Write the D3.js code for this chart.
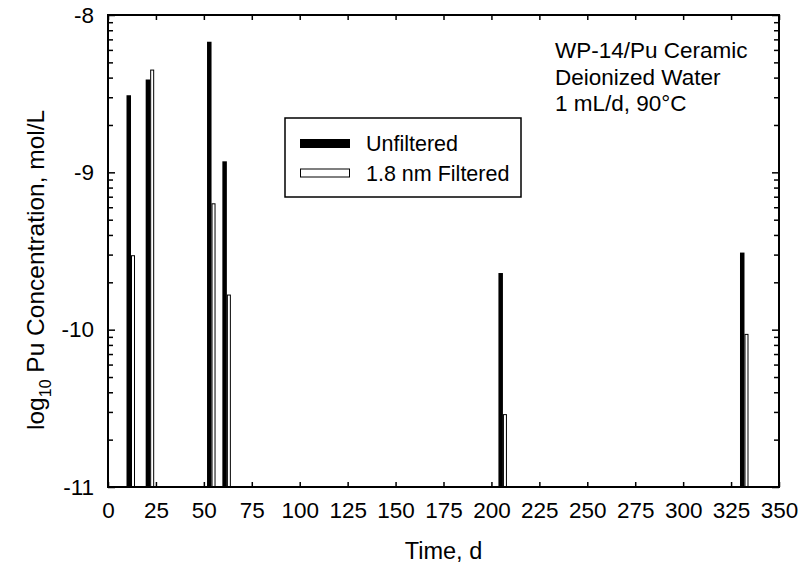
<!DOCTYPE html>
<html lang="en">
  <head>
    <meta charset="UTF-8" />
    <title>Pu Concentration vs Time</title>
    <script src="https://d3js.org/d3.v7.min.js"></script>
    <style>
      body { margin: 0; background: #fff; }
      text { font-family: "Liberation Sans", Arial, sans-serif; fill: #000; }
    </style>
  </head>
  <body>
    <div id="chart"></div>

    <script>
      // sampling days and log10 concentrations
      const days = [12, 22, 54, 62, 206, 332];
      const unfiltered = [-8.51, -8.41, -8.17, -8.93, -9.64, -9.51];
      const filtered = [-9.53, -8.35, -9.2, -9.78, -10.54, -10.03];

      const xTicks = d3.range(0, 351, 25);
      const yTicks = [-8, -9, -10, -11];
      const seriesNames = ["Unfiltered", "1.8 nm Filtered"];
      const noteLines = ["WP-14/Pu Ceramic", "Deionized Water", "1 mL/d, 90°C"];

      const data = days.map((d, i) => ({ day: d, unf: unfiltered[i], fil: filtered[i] }));

      const margin = { top: 15, right: 28, bottom: 81, left: 108 },
        width = 807 - margin.left - margin.right,
        height = 568 - margin.top - margin.bottom;

      const svg = d3
        .select("#chart")
        .append("svg")
        .attr("width", 807)
        .attr("height", 568)
        .append("g")
        .attr("transform", `translate(${margin.left},${margin.top})`);

      const x = d3.scaleLinear().domain([0, 350]).range([0, width]);
      const y = d3.scaleLinear().domain([-11, -8]).range([height, 0]);

      // bars: black = unfiltered, open = filtered
      svg
        .append("g")
        .selectAll("rect.unf")
        .data(data)
        .join("rect")
        .attr("class", "unf")
        .attr("x", (d) => x(d.day) - 4.5)
        .attr("y", (d) => y(d.unf))
        .attr("width", 4.5)
        .attr("height", (d) => y(-11) - y(d.unf))
        .attr("fill", "#000");

      svg
        .append("g")
        .selectAll("rect.fil")
        .data(data)
        .join("rect")
        .attr("class", "fil")
        .attr("x", (d) => x(d.day) + 0.5)
        .attr("y", (d) => y(d.fil))
        .attr("width", 3)
        .attr("height", (d) => y(-11) - y(d.fil))
        .attr("fill", "#fff")
        .attr("stroke", "#000")
        .attr("stroke-width", 1);

      // axes (ticks point inward)
      const xAxis = svg
        .append("g")
        .attr("transform", `translate(0,${height})`)
        .call(d3.axisBottom(x).tickValues(xTicks).tickSizeInner(-5).tickSizeOuter(0).tickPadding(15));
      xAxis.selectAll("text").style("font-size", "22.5px");

      svg
        .append("g")
        .call(d3.axisTop(x).tickValues(xTicks).tickSizeInner(-5).tickSizeOuter(0).tickFormat(""));

      const yAxis = svg
        .append("g")
        .call(
          d3.axisLeft(y).tickValues(yTicks).tickSizeInner(-7).tickSizeOuter(0).tickPadding(14)
            .tickFormat((d) => String(d))
        );
      yAxis.selectAll("text").style("font-size", "22.5px");

      svg
        .append("g")
        .attr("transform", `translate(${width},0)`)
        .call(d3.axisRight(y).tickValues(yTicks).tickSizeInner(-7).tickSizeOuter(0).tickFormat(""));

      // log minor ticks inside each decade
      const minor = [];
      [-11, -10, -9].forEach((base) => {
        d3.range(2, 10).forEach((k) => minor.push(base + Math.log10(k)));
      });
      svg
        .append("g")
        .call(d3.axisLeft(y).tickValues(minor).tickSizeInner(-5).tickSizeOuter(0).tickFormat(""));
      svg
        .append("g")
        .attr("transform", `translate(${width},0)`)
        .call(d3.axisRight(y).tickValues(minor).tickSizeInner(-5).tickSizeOuter(0).tickFormat(""));

      svg.selectAll(".domain").remove();
      svg.selectAll(".tick line").attr("stroke", "#000").attr("stroke-width", 1.5);

      // frame
      svg
        .append("rect")
        .attr("width", width)
        .attr("height", height)
        .attr("fill", "none")
        .attr("stroke", "#000")
        .attr("stroke-width", 2);

      // axis titles
      svg
        .append("text")
        .attr("x", width / 2)
        .attr("y", height + 72)
        .attr("text-anchor", "middle")
        .style("font-size", "23.5px")
        .text("Time, d");

      const yTitle = svg
        .append("text")
        .attr("transform", `translate(${-64},${y(-9.62)}) rotate(-90)`)
        .attr("text-anchor", "middle")
        .style("font-size", "24.5px");
      yTitle.append("tspan").text("log");
      yTitle.append("tspan").attr("dy", 7).style("font-size", "16px").text("10");
      yTitle.append("tspan").attr("dy", -7).text("\u00a0Pu Concentration, mol/L");

      // annotation
      svg
        .append("g")
        .selectAll("text")
        .data(noteLines)
        .join("text")
        .attr("x", 447)
        .attr("y", (d, i) => 43 + i * 26.5)
        .style("font-size", "22.5px")
        .text((d) => d);

      // legend
      const lg = svg.append("g").attr("transform", "translate(177,103)");
      lg.append("rect")
        .attr("width", 236)
        .attr("height", 79)
        .attr("fill", "#fff")
        .attr("stroke", "#000")
        .attr("stroke-width", 1.5);
      const items = lg
        .selectAll("g.item")
        .data(seriesNames)
        .join("g")
        .attr("class", "item")
        .attr("transform", (d, i) => `translate(0,${i * 29.5})`);
      items
        .append("rect")
        .attr("x", 15.5)
        .attr("y", 21.5)
        .attr("width", 49)
        .attr("height", 8)
        .attr("fill", (d, i) => (i === 0 ? "#000" : "#fff"))
        .attr("stroke", "#000")
        .attr("stroke-width", 1);
      items
        .append("text")
        .attr("x", 81)
        .attr("y", 33)
        .style("font-size", "21.5px")
        .text((d) => d);
    </script>
  </body>
</html>
